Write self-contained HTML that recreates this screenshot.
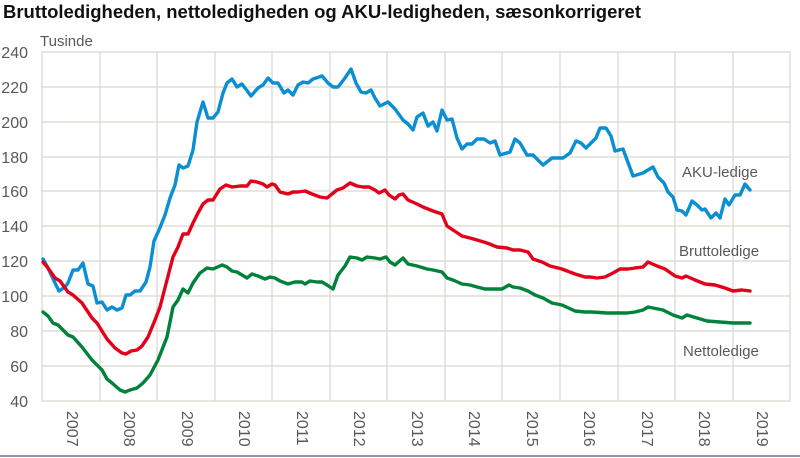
<!DOCTYPE html>
<html><head><meta charset="utf-8"><style>
html,body{margin:0;padding:0;background:#fff;}
svg{display:block;font-family:"Liberation Sans",Arial,sans-serif;}
</style></head><body>
<svg width="800" height="458" viewBox="0 0 800 458" xmlns="http://www.w3.org/2000/svg">
<rect width="800" height="458" fill="#fff"/>
<text x="3" y="18" font-size="18" font-weight="bold" fill="#111" textLength="638" lengthAdjust="spacingAndGlyphs">Bruttoledigheden, nettoledigheden og AKU-ledigheden, sæsonkorrigeret</text>
<text x="40" y="46" font-size="15" fill="#595959">Tusinde</text>
<g stroke="#d9d7cf" stroke-width="1.2" fill="none">
<line x1="42" y1="52" x2="790" y2="52"/><line x1="42" y1="87" x2="790" y2="87"/><line x1="42" y1="122" x2="790" y2="122"/><line x1="42" y1="157" x2="790" y2="157"/><line x1="42" y1="191" x2="790" y2="191"/><line x1="42" y1="226" x2="790" y2="226"/><line x1="42" y1="261" x2="790" y2="261"/><line x1="42" y1="296" x2="790" y2="296"/><line x1="42" y1="331" x2="790" y2="331"/><line x1="42" y1="366" x2="790" y2="366"/><line x1="42" y1="401" x2="790" y2="401"/>
<line x1="42" y1="52" x2="42" y2="401"/><line x1="100" y1="52" x2="100" y2="401"/><line x1="157" y1="52" x2="157" y2="401"/><line x1="215" y1="52" x2="215" y2="401"/><line x1="272" y1="52" x2="272" y2="401"/><line x1="330" y1="52" x2="330" y2="401"/><line x1="387" y1="52" x2="387" y2="401"/><line x1="445" y1="52" x2="445" y2="401"/><line x1="502" y1="52" x2="502" y2="401"/><line x1="560" y1="52" x2="560" y2="401"/><line x1="618" y1="52" x2="618" y2="401"/><line x1="675" y1="52" x2="675" y2="401"/><line x1="733" y1="52" x2="733" y2="401"/><line x1="790" y1="52" x2="790" y2="401"/>
</g>
<g font-size="16" fill="#595959" text-anchor="end">
<text x="28" y="58">240</text><text x="28" y="93">220</text><text x="28" y="128">200</text><text x="28" y="163">180</text><text x="28" y="197">160</text><text x="28" y="232">140</text><text x="28" y="267">120</text><text x="28" y="302">100</text><text x="28" y="337">80</text><text x="28" y="372">60</text><text x="28" y="407">40</text>
</g>
<g font-size="16" fill="#595959">
<text transform="translate(67,411) rotate(90)">2007</text>
<text transform="translate(124,411) rotate(90)">2008</text>
<text transform="translate(182,411) rotate(90)">2009</text>
<text transform="translate(239,411) rotate(90)">2010</text>
<text transform="translate(297,411) rotate(90)">2011</text>
<text transform="translate(354,411) rotate(90)">2012</text>
<text transform="translate(412,411) rotate(90)">2013</text>
<text transform="translate(469,411) rotate(90)">2014</text>
<text transform="translate(527,411) rotate(90)">2015</text>
<text transform="translate(584,411) rotate(90)">2016</text>
<text transform="translate(642,411) rotate(90)">2017</text>
<text transform="translate(699,411) rotate(90)">2018</text>
<text transform="translate(757,411) rotate(90)">2019</text>
</g>
<line x1="0" y1="456" x2="800" y2="456" stroke="#8a9aa8" stroke-width="2"/>
<g fill="none" stroke-width="3.4" stroke-linejoin="round" stroke-linecap="round">
<polyline stroke="#0a8fd2" points="43,259 48,268 55,283 59,291 65,287 68,283 73,270 78,270 83,263 88,284 93,286 97,303 102,302 107,310 112,307 117,310 122,308 126,295 130,295 135,291 140,291 146,282 150,267 154,241 159,230 165,215 170,198 175,185 179,165 183,168 188,166 193,150 197,122 203,102 208,118 213,118 218,112 223,93 227,83 232,79 237,87 242,84 251,96 258,88 263,85 268,78 273,83 278,83 284,93 288,90 293,95 298,85 303,82 308,83 313,79 322,76 328,83 333,87 338,87 345,78 351,69 356,83 361,92 366,93 371,90 375,98 380,106 388,102 395,109 403,120 408,124 413,130 417,117 423,113 428,126 433,122 437,131 442,110 447,120 452,119 457,138 462,149 467,144 472,144 477,139 484,139 490,143 495,141 500,155 510,152 515,139 520,143 527,155 533,155 543,165 552,158 563,158 570,153 576,141 581,143 586,148 592,142 596,138 600,128 606,128 611,136 615,151 623,149 633,176 643,173 653,167 658,177 664,183 668,192 673,197 677,210 682,211 686,215 692,201 697,205 702,210 705,209 711,218 716,213 720,218 725,199 729,205 735,195 740,195 745,184 750,190"/>
<polyline stroke="#e3001b" points="43,262 48,268 55,278 60,281 68,292 73,295 82,303 92,318 97,323 107,339 115,348 122,353 126,354 131,351 137,350 142,346 148,337 155,320 160,307 167,280 173,257 178,247 183,234 188,234 193,223 198,213 203,204 208,200 213,200 220,189 226,185 232,187 240,186 247,186 251,181 257,182 263,184 267,187 272,184 275,185 280,192 288,194 293,192 298,192 305,191 312,194 320,197 327,198 332,194 337,190 343,188 350,183 357,186 363,187 369,187 375,190 379,193 385,190 389,195 395,199 399,195 403,194 408,200 417,204 423,207 433,211 442,214 447,226 453,230 462,236 470,238 477,240 487,243 497,247 507,248 513,250 520,250 528,252 533,259 542,262 550,266 562,269 575,274 585,277 590,277 597,278 605,277 613,273 620,269 628,269 635,268 643,267 648,262 657,266 665,269 675,276 682,278 686,276 695,280 705,284 715,285 725,288 733,291 742,290 750,291"/>
<polyline stroke="#00823a" points="43,312 48,316 53,323 58,325 68,335 73,337 82,347 92,360 97,365 102,370 107,379 112,383 120,390 125,392 130,390 137,388 143,383 150,375 158,360 167,337 173,307 178,300 183,289 188,293 193,283 200,273 207,268 213,269 222,265 227,267 232,271 237,272 247,278 252,274 258,276 265,279 270,277 275,278 280,281 288,284 295,282 302,282 305,284 310,281 317,282 322,282 327,285 333,289 338,275 345,266 350,257 357,258 362,260 367,257 375,258 380,259 386,257 390,262 395,265 403,258 408,264 417,266 427,269 433,270 442,272 447,278 453,280 462,284 470,285 477,287 485,289 493,289 502,289 509,285 513,287 520,288 528,291 535,295 543,298 552,303 562,305 575,311 585,312 592,312 607,313 617,313 627,313 635,312 643,310 648,307 663,310 673,315 682,318 687,315 697,318 707,321 720,322 733,323 743,323 750,323"/>
</g>
<g font-size="15" fill="#595959">
<text x="682" y="177">AKU-ledige</text>
<text x="679" y="256">Bruttoledige</text>
<text x="683" y="356">Nettoledige</text>
</g>
</svg>
</body></html>
